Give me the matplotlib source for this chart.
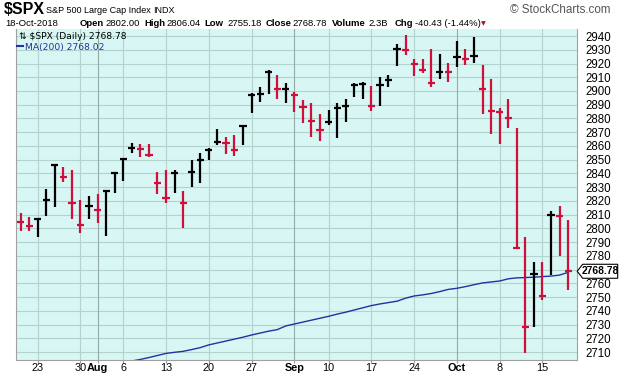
import matplotlib
matplotlib.use("Agg")
import matplotlib.pyplot as plt
from matplotlib.patches import Polygon

# trading days shown on the chart
dates = ['2018-07-19', '2018-07-20', '2018-07-23', '2018-07-24', '2018-07-25', '2018-07-26', '2018-07-27',
         '2018-07-30', '2018-07-31', '2018-08-01', '2018-08-02', '2018-08-03', '2018-08-06', '2018-08-07',
         '2018-08-08', '2018-08-09', '2018-08-10', '2018-08-13', '2018-08-14', '2018-08-15', '2018-08-16',
         '2018-08-17', '2018-08-20', '2018-08-21', '2018-08-22', '2018-08-23', '2018-08-24', '2018-08-27',
         '2018-08-28', '2018-08-29', '2018-08-30', '2018-08-31', '2018-09-04', '2018-09-05', '2018-09-06',
         '2018-09-07', '2018-09-10', '2018-09-11', '2018-09-12', '2018-09-13', '2018-09-14', '2018-09-17',
         '2018-09-18', '2018-09-19', '2018-09-20', '2018-09-21', '2018-09-24', '2018-09-25', '2018-09-26',
         '2018-09-27', '2018-09-28', '2018-10-01', '2018-10-02', '2018-10-03', '2018-10-04', '2018-10-05',
         '2018-10-08', '2018-10-09', '2018-10-10', '2018-10-11', '2018-10-12', '2018-10-15', '2018-10-16',
         '2018-10-17', '2018-10-18']

highs = [2811.0, 2808.0, 2807.5, 2828.6, 2846.6, 2844.7, 2842.5, 2820.6, 2823.5, 2825.0, 2828.0, 2841.0,
         2851.0, 2862.5, 2861.4, 2861.4, 2841.0, 2842.5, 2842.5, 2827.4, 2849.8, 2855.0, 2858.3, 2872.3,
         2866.7, 2868.0, 2875.2, 2898.4, 2903.1, 2915.3, 2911.6, 2905.6, 2899.5, 2893.4, 2891.0, 2883.2,
         2886.1, 2891.5, 2894.1, 2905.6, 2906.8, 2903.6, 2909.9, 2911.6, 2934.2, 2940.7, 2923.3, 2923.0,
         2930.3, 2926.9, 2920.1, 2936.6, 2930.5, 2939.5, 2918.9, 2908.5, 2887.8, 2894.1, 2873.0, 2794.0,
         2775.5, 2775.5, 2813.0, 2816.0, 2806.04]

lows = [2798.3, 2798.0, 2793.5, 2809.2, 2815.8, 2834.0, 2807.0, 2796.4, 2806.6, 2804.1, 2794.4, 2826.0,
        2834.7, 2855.0, 2851.7, 2852.0, 2824.8, 2818.2, 2825.5, 2800.5, 2829.9, 2832.8, 2849.8, 2860.7,
        2854.1, 2852.7, 2860.7, 2883.7, 2892.2, 2897.6, 2893.9, 2891.0, 2884.5, 2876.5, 2866.3, 2863.4,
        2875.4, 2865.6, 2877.6, 2895.4, 2894.1, 2885.6, 2889.3, 2902.7, 2918.2, 2926.2, 2911.1, 2912.8,
        2903.1, 2908.5, 2906.3, 2917.2, 2918.9, 2920.6, 2883.0, 2868.5, 2861.2, 2873.3, 2784.9, 2709.5,
        2728.0, 2748.0, 2766.0, 2780.0, 2755.18]

closes = [2804.49, 2801.83, 2806.98, 2820.40, 2846.07, 2837.44, 2818.82, 2802.60, 2816.29, 2813.36,
          2827.22, 2840.35, 2850.40, 2858.45, 2857.70, 2853.58, 2833.28, 2821.93, 2839.96, 2818.37,
          2840.69, 2850.13, 2857.05, 2862.96, 2861.82, 2856.98, 2874.69, 2896.74, 2897.52, 2914.04,
          2901.13, 2901.52, 2896.72, 2888.60, 2878.05, 2871.68, 2877.13, 2887.89, 2888.92, 2904.18,
          2904.98, 2888.80, 2904.31, 2907.95, 2930.75, 2929.67, 2919.37, 2915.56, 2905.97, 2914.00,
          2913.98, 2924.59, 2923.43, 2925.51, 2901.61, 2885.57, 2884.43, 2880.34, 2785.68, 2728.37,
          2767.13, 2750.79, 2809.92, 2809.21, 2768.78]
prev_close = 2815.62  # close of the day before the first bar

# 200-day moving average (starts below the visible range)
ma200 = [None] * 13 + [
    2703.5, 2704.6, 2706.0, 2707.5, 2709.0, 2709.8, 2710.5, 2711.8, 2713.2, 2715.2, 2716.6, 2718.0,
    2719.4, 2720.8, 2722.4, 2723.8, 2725.2, 2726.3, 2729.0, 2730.4, 2731.8, 2733.2, 2734.6, 2736.0,
    2737.6, 2739.0, 2740.6, 2742.2, 2743.8, 2745.0, 2746.0, 2747.0, 2749.2, 2750.8, 2751.6, 2752.6,
    2754.0, 2755.6, 2756.4, 2757.6, 2759.0, 2760.3, 2761.0, 2761.7, 2763.3, 2764.0, 2764.2, 2764.5,
    2764.9, 2765.3, 2766.0, 2768.02]

xtick_dates = ['2018-07-23', '2018-07-30', '2018-08-01', '2018-08-06', '2018-08-13', '2018-08-20',
               '2018-08-27', '2018-09-04', '2018-09-10', '2018-09-17', '2018-09-24', '2018-10-01',
               '2018-10-08', '2018-10-15']
xtick_labels = ['23', '30', 'Aug', '6', '13', '20', '27', 'Sep', '10', '17', '24', 'Oct', '8', '15']
month_labels = ['Aug', 'Sep', 'Oct']
yticks = list(range(2710, 2941, 10))
hidden_ytick = 2770  # covered by the price flag

RED = '#d0103a'
BG = '#d8f6f4'
GRID = '#b3d3cd'
MONTH_GRID = '#93aaa6'
MA_COLOR = '#2630a0'

fig = plt.figure(figsize=(6.2, 3.76), dpi=100)
ax = fig.add_axes([16.3 / 620, 16 / 376, 560.4 / 620, 330.7 / 376])
ax.set_facecolor(BG)

x = list(range(len(dates)))
prev = [prev_close] + closes[:-1]
colors = ['black' if c >= p else RED for c, p in zip(closes, prev)]

ax.vlines(x, lows, highs, colors=colors, lw=1.6, zorder=3)
ax.hlines(closes, [i - 0.42 for i in x], [i + 0.42 for i in x], colors=colors, lw=1.6, zorder=3)

ma_x = [i for i, v in zip(x, ma200) if v is not None]
ma_y = [v for v in ma200 if v is not None]
ax.plot(ma_x, ma_y, color=MA_COLOR, lw=1.0, zorder=2)

ax.set_xlim(-0.5, 65.0)
ax.set_ylim(2704.2, 2944.9)

# grid
for v in yticks:
    ax.axhline(v, color=GRID, lw=0.8, zorder=1)
tick_pos = [dates.index(d) for d in xtick_dates]
for p, lab in zip(tick_pos, xtick_labels):
    ax.axvline(p, color=MONTH_GRID if lab in month_labels else GRID, lw=0.8, zorder=1)

ax.set_xticks(tick_pos)
ax.set_xticklabels(xtick_labels, fontsize=7.8, family='Liberation Sans')
for t in ax.get_xticklabels():
    if t.get_text() in month_labels:
        t.set_fontweight('bold')
ax.tick_params(axis='x', length=2, color='#999999', pad=0.5)

ax.yaxis.tick_right()
ax.set_yticks(yticks)
ax.set_yticklabels(['' if v == hidden_ytick else str(v) for v in yticks], fontsize=8.3,
                   family='Liberation Sans')
ax.tick_params(axis='y', length=0, pad=6)

for s in ax.spines.values():
    s.set_color('#a0a0a0')
    s.set_linewidth(0.8)
ax.spines['top'].set_visible(False)

# price flag on the right (pixel coordinates of the last close)
fig.canvas.draw()
x0, yc = ax.transData.transform((ax.get_xlim()[1], closes[-1]))
flag = Polygon([(x0 + 0.5, yc), (x0 + 6, yc + 7), (x0 + 41, yc + 7), (x0 + 41, yc - 7), (x0 + 6, yc - 7)],
               closed=True, fc='white', ec='black', lw=0.8, transform=None, zorder=10)
fig.add_artist(flag)
fig.text(x0 + 23.5, yc, '%.2f' % closes[-1], transform=None, ha='center', va='center',
         fontsize=7.4, fontweight='bold', family='Liberation Sans', zorder=11)


def px(xp, yp):
    return xp / 620, 1 - yp / 376


# header
fig.text(*px(4, 14), '$SPX', fontsize=11.5, fontweight='bold', family='Liberation Sans')
fig.text(*px(46, 13), 'S&P 500 Large Cap Index', fontsize=6.5, family='Liberation Sans')
fig.text(*px(153, 13), 'INDX', fontsize=6.5, family='Liberation Sans')
fig.text(*px(610, 13), '\u00a9 StockCharts.com', fontsize=8.4, color='#555555', ha='right',
         family='Liberation Sans')

line2 = [(5, '18-Oct-2018', 'normal'), (80, 'Open', 'bold'), (105.7, '2802.00', 'normal'),
         (144, 'High', 'bold'), (166.3, '2806.04', 'normal'), (204.7, 'Low', 'bold'),
         (227.3, '2755.18', 'normal'), (265.7, 'Close', 'bold'), (292.3, '2768.78', 'normal'),
         (332.3, 'Volume', 'bold'), (368.3, '2.3B', 'normal'), (395, 'Chg', 'bold'),
         (415, '-40.43 (-1.44%)', 'normal')]
for xp, s, w in line2:
    fig.text(*px(xp, 26), s, fontsize=6.8, fontweight=w, family='Liberation Sans')
fig.text(*px(481, 25), '\u25bc', fontsize=4.5, color='#a01030', family='DejaVu Sans')

# legend inside plot
fig.text(*px(19, 39), '\u21c5 $SPX (Daily) 2768.78', fontsize=6.6, family='DejaVu Sans')
fig.text(*px(25, 50), 'MA(200) 2768.02', fontsize=6.6, color=MA_COLOR, family='DejaVu Sans')
fig.add_artist(plt.Line2D([16.5 / 620, 23 / 620], [1 - 46 / 376, 1 - 46 / 376], color=MA_COLOR, lw=1.5))

fig.savefig('out.png', dpi=100)
